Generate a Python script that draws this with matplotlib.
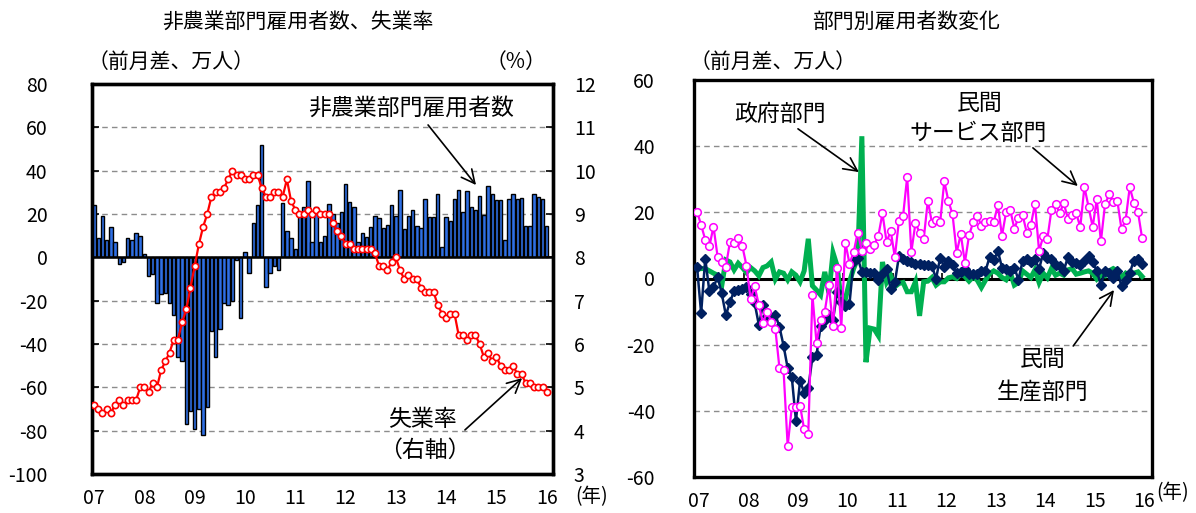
import matplotlib
matplotlib.use("Agg")
import matplotlib.pyplot as plt
import numpy as np

plt.rcParams["font.family"] = ["Noto Sans CJK JP", "DejaVu Sans"]
plt.rcParams["axes.unicode_minus"] = False

# monthly data, Jan 2007 - Jan 2016
year_labels = ["07", "08", "09", "10", "11", "12", "13", "14", "15", "16"]

# nonfarm payrolls, change from previous month (10k persons)
payrolls = [
    24, 9, 19, 8, 14, 7, -3, -2, 9, 8, 11, 10,
    1.5, -8.5, -7.5, -21, -17, -16.5, -21, -26.5, -46, -48, -77, -71,
    -79, -70, -82, -69, -34, -46, -33, -21, -22, -20, -1, -28,
    2.5, -7, 16, 24, 52, -13.5, -7, -4, -6, 25, 12, 9,
    4, 20, 23, 35, 7, 23, 7, 10, 24.5, 20, 16, 21,
    33.7, 25.7, 23.4, 7.2, 11.4, 9.2, 13.8, 19.1, 18, 13.4, 14.9, 24.2,
    19.1, 31.1, 13.1, 19.2, 21.8, 14.6, 13.7, 26.9, 18.5, 18.8, 29.1, 4.6,
    18.5, 16.9, 26.9, 31.1, 21.1, 30.8, 23.1, 21.8, 28.5, 19.5, 33.1, 29.2,
    26.6, 26.5, 8, 27, 29, 27, 27.5, 14.6, 14.6, 29.2, 28, 26.9,
    14.6,
]

# unemployment rate (%)
unemployment = [
    4.6, 4.5, 4.4, 4.5, 4.4, 4.6, 4.7, 4.6, 4.7, 4.7, 4.7, 5.0,
    5.0, 4.9, 5.1, 5.0, 5.4, 5.6, 5.8, 6.1, 6.1, 6.5, 6.8, 7.3,
    7.8, 8.3, 8.7, 9.0, 9.4, 9.5, 9.5, 9.6, 9.8, 10.0, 9.9, 9.9,
    9.8, 9.8, 9.9, 9.9, 9.6, 9.4, 9.4, 9.5, 9.5, 9.4, 9.8, 9.3,
    9.1, 9.0, 9.0, 9.1, 9.0, 9.1, 9.0, 9.0, 9.0, 8.8, 8.6, 8.5,
    8.3, 8.3, 8.2, 8.2, 8.2, 8.2, 8.2, 8.1, 7.8, 7.8, 7.7, 7.9,
    8.0, 7.7, 7.5, 7.6, 7.5, 7.5, 7.3, 7.2, 7.2, 7.2, 6.9, 6.7,
    6.6, 6.7, 6.7, 6.2, 6.2, 6.1, 6.2, 6.2, 6.0, 5.7, 5.8, 5.6,
    5.7, 5.5, 5.4, 5.4, 5.5, 5.3, 5.3, 5.1, 5.1, 5.0, 5.0, 5.0,
    4.9,
]

# employment change by sector (10k persons)
services = [
    20.2, 16.2, 11.7, 9.7, 15.7, 6.6, 5.1, 3.6, 11.1, 10.7, 12.2, 9.8,
    3.9, -6.2, -2.4, -8, -13.5, -10, -13, -15.2, -27, -27.8, -50.6, -38.9,
    -38.9, -38.4, -45.6, -46.9, -4.9, -19.5, -12.5, -10, -2, -14.5, 3.3, -15,
    10.8, 4.5, 7.9, 13.9, 8.3, 10.7, 8.8, 10.2, 12.9, 19.7, 11, 14.4,
    6.5, 17.5, 18.9, 30.8, 8, 16.7, 13.9, 11.8, 23.5, 16.9, 17.8, 17,
    29.4, 23.4, 19.4, 7.8, 13.4, 4.8, 13, 17, 18.9, 16, 17.1, 17.3,
    17.1, 22.2, 12.9, 20.1, 20.7, 15.1, 18.4, 19.2, 13.9, 16.1, 22.6, 8.3,
    12.7, 11.9, 20.7, 22.4, 19.9, 22.7, 18.1, 19.1, 19.7, 15.6, 27.7, 21.7,
    15.6, 23.9, 11.2, 22.4, 25.4, 23.1, 23.4, 14.9, 17.7, 27.6, 22.9, 20.1,
    12.2,
]

goods = [
    3.6, -10.5, 6, -3.9, -2.7, 0.5, -4.5, -11.1, -7.1, -3.8, -3.5, -3.3,
    -2.7, -4.7, -7.5, -14, -8, -11.4, -12, -10.9, -14.6, -20.3, -27.1, -29.8,
    -43, -31, -34.5, -33.2, -23.8, -23.1, -14.3, -12.5, -10.9, -12.5, -4.2, -7.2,
    -8.2, -7.6, 5.4, 6.2, 2, 2, 1.8, 1.8, -0.5, 1.5, 2.8, -3.2,
    -1.2, 6.7, 6, 5.4, 5, 4.5, 4.3, 4, 4.2, 3.8, -0.1, 6.3,
    3.5, 5.4, 4, 1.7, 2, 3, 1.5, 1.4, 1.5, 2.2, 2.3, 6.5,
    5.5, 8.3, 3.3, 2.8, 2.3, 3.3, -0.4, 5.3, 6, 5, 6, 2.8,
    7.8, 6.3, 5.8, 4, 3.8, 2.3, 6.6, 5, 4.8, 4, 5.3, 6.8,
    5, 2.3, -2, 2.3, 1.6, 0.3, 2.3, -2.4, -0.4, 1.8, 5.3, 6,
    4.3,
]

government = [
    2.8, 3, 3, 2.3, 1.6, 1, -2.2, 5.6, 5, 2.6, 4.6, 3.3,
    1.8, 3.3, 2.3, 0.8, 3.3, 3.8, 5, -0.2, 2, 1.6, -0.4, 2,
    1, -1, 2.3, 12, -2.2, -3.5, -5, 2, -4.4, 7.8, 3.8, -7.2,
    -6.2, -1, 3, 6, 43, -25.3, -15, -15.3, -17.3, 5, -1.2, 0.8,
    -2.5, -1.5, -1.2, -4, -4, -1, -11.3, -1, -0.8, 0.3, -2, -1,
    -1, 0.2, 0.5, 0, 1.5, 0.6, -0.8, 0.5, -0.5, -2.7, -0.5, 1.5,
    2.3, 1.6, 0.3, -0.4, 1.8, -2, -1.2, 2.3, 1.3, 0.3, 2.6, -1.2,
    1.6, 0.2, 3, 1, 1.6, 1, 2.6, 3, 1.3, 1.6, 2, 2.3,
    1.6, -0.2, 1, 0.8, 2.3, 3, 2.3, 0.3, 1.6, 0.8, 1.6, 2,
    0.6,
]

BAR_BLUE = "#2F6FE4"
RED = "#FF0000"
MAGENTA = "#FF00FF"
NAVY = "#002060"
GREEN = "#00B050"
GRID = "#8C8C8C"
FS_TICK = 14
FS_TITLE = 15
FS_NOTE = 16.5

W, H = 1196, 513
fig = plt.figure(figsize=(W / 100, H / 100), dpi=100)


def frame(ax):
    for s in ax.spines.values():
        s.set_linewidth(2.4)
        s.set_color("black")


def note(ax, xy, xytext):
    ax.annotate(
        "", xy=xy, xytext=xytext, xycoords="axes fraction",
        textcoords="axes fraction",
        arrowprops=dict(arrowstyle="->", color="black", lw=1.2,
                        mutation_scale=24, shrinkA=0, shrinkB=0),
    )


months = np.arange(len(payrolls))
ticks = np.arange(0, len(payrolls), 12)

# ---- left: payrolls and unemployment rate
ax1 = fig.add_axes([92 / W, 39 / H, 461 / W, 390 / H])
ax1.bar(months, payrolls, width=0.82, color=BAR_BLUE, edgecolor="black",
        linewidth=1.0, zorder=2)
ax1.set_xlim(-0.5, len(payrolls) + 0.5)
ax1.set_ylim(-100, 80)
ax1.set_yticks(np.arange(-100, 81, 20))
for v in np.arange(-80, 61, 20):
    if v != 0:
        ax1.axhline(v, color=GRID, lw=1, ls=(0, (4, 3)), zorder=1)
ax1.axhline(0, color="black", lw=1.8, zorder=3)
ax1.set_xticks(ticks)
ax1.set_xticklabels(year_labels)
ax1.tick_params(axis="x", length=0, labelsize=FS_TICK, pad=10)
ax1.tick_params(axis="y", direction="in", length=5, width=1.2,
                labelsize=FS_TICK, pad=32)
frame(ax1)

ax2 = ax1.twinx()
ax2.plot(months, unemployment, color=RED, lw=1.6, marker="o", ms=4.5,
         mfc="white", mec=RED, mew=1.2, zorder=4)
ax2.set_ylim(3, 12)
ax2.set_yticks(np.arange(3, 13, 1))
ax2.tick_params(axis="y", direction="in", length=5, width=1.2,
                labelsize=FS_TICK, pad=15)
frame(ax2)

ax1.text(0.692, 0.938, "非農業部門雇用者数", transform=ax1.transAxes,
         ha="center", va="center", fontsize=FS_NOTE)
note(ax1, (0.833, 0.741), (0.729, 0.895))
ax1.text(0.716, 0.141, "失業率", transform=ax1.transAxes,
         ha="center", va="center", fontsize=FS_NOTE)
ax1.text(0.722, 0.062, "（右軸）", transform=ax1.transAxes,
         ha="center", va="center", fontsize=FS_NOTE)
note(ax1, (0.933, 0.246), (0.809, 0.113))

fig.text(298 / W, 1 - 22 / H, "非農業部門雇用者数、失業率", ha="center",
         va="center", fontsize=FS_TITLE)
fig.text(88 / W, 1 - 62 / H, "（前月差、万人）", ha="left", va="center",
         fontsize=FS_TITLE)
fig.text(546 / W, 1 - 62 / H, "（%）", ha="right", va="center",
         fontsize=FS_TITLE)
fig.text(592 / W, 1 - 497 / H, "(年)", ha="center", va="center",
         fontsize=FS_TICK)

# ---- right: employment change by sector
ax3 = fig.add_axes([694 / W, 36 / H, 458 / W, 397 / H])
for v in (-40, -20, 20, 40):
    ax3.axhline(v, color=GRID, lw=1, ls=(0, (4, 3)), zorder=1)
ax3.axhline(0, color="black", lw=2.2, zorder=1.5)
ax3.vlines(np.arange(12, len(payrolls), 12) - 0.5, 0, 1.8, color="black",
           lw=1.2, zorder=1.5)
ax3.plot(months, government, color=GREEN, lw=3.6, zorder=2,
         solid_joinstyle="miter")
ax3.plot(months, goods, color=NAVY, lw=1.8, marker="D", ms=4.8,
         mfc=NAVY, mec=NAVY, zorder=3)
ax3.plot(months, services, color=MAGENTA, lw=1.6, marker="o", ms=5.5,
         mfc="white", mec=MAGENTA, mew=1.1, zorder=4)
ax3.set_xlim(-0.73, len(payrolls) + 1.4)
ax3.set_ylim(-60, 60)
ax3.set_yticks(np.arange(-60, 61, 20))
ax3.set_xticks(ticks + 0.5)
ax3.set_xticklabels(year_labels)
ax3.tick_params(axis="x", length=0, labelsize=FS_TICK, pad=10)
ax3.tick_params(axis="y", length=0, labelsize=FS_TICK, pad=28)
frame(ax3)

ax3.text(0.188, 0.912, "政府部門", transform=ax3.transAxes,
         ha="center", va="center", fontsize=FS_NOTE)
note(ax3, (0.360, 0.768), (0.227, 0.877))
ax3.text(0.624, 0.942, "民間", transform=ax3.transAxes,
         ha="center", va="center", fontsize=FS_NOTE)
ax3.text(0.620, 0.866, "サービス部門", transform=ax3.transAxes,
         ha="center", va="center", fontsize=FS_NOTE)
note(ax3, (0.838, 0.733), (0.740, 0.829))
ax3.text(0.762, 0.295, "民間", transform=ax3.transAxes,
         ha="center", va="center", fontsize=FS_NOTE)
ax3.text(0.762, 0.214, "生産部門", transform=ax3.transAxes,
         ha="center", va="center", fontsize=FS_NOTE)
note(ax3, (0.917, 0.471), (0.828, 0.330))

fig.text(906 / W, 1 - 22 / H, "部門別雇用者数変化", ha="center",
         va="center", fontsize=FS_TITLE)
fig.text(690 / W, 1 - 62 / H, "（前月差、万人）", ha="left", va="center",
         fontsize=FS_TITLE)
fig.text(1173 / W, 1 - 493 / H, "(年)", ha="center", va="center",
         fontsize=FS_TICK)

fig.savefig("out.png", dpi=100)
